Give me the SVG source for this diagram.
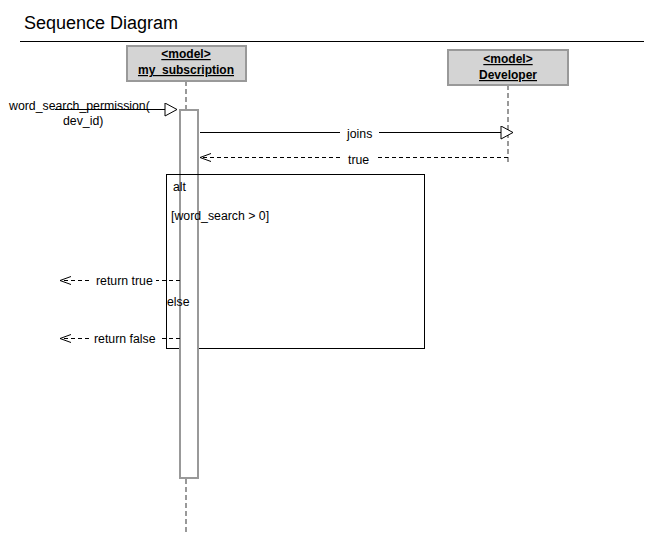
<svg xmlns="http://www.w3.org/2000/svg" width="667" height="555" viewBox="0 0 667 555">
<style>
text{font-family:"Liberation Sans",Arial,sans-serif;font-size:12.3px;fill:#000}
.title{font-size:18px}
.head{fill:#d4d4d4;stroke:#999;stroke-width:2}
.hl{font-weight:bold;text-decoration:underline;text-anchor:middle;font-size:12px}
.life{stroke:#999;stroke-width:2;stroke-dasharray:5,3;fill:none}
.act{fill:#fff;stroke:#999;stroke-width:2}
.msg{stroke:#000;stroke-width:1;fill:none}
.dash{stroke:#000;stroke-width:1;stroke-dasharray:4,3;fill:none}
.lbl{fill:#fff;stroke:none}
</style>
<defs>
<marker id="tri" markerWidth="15" markerHeight="16" refX="13" refY="7" orient="auto" markerUnits="userSpaceOnUse">
<path d="M1,0.5 L13,7 L1,13.5 Z" fill="#fff" stroke="#000" stroke-width="1"/>
</marker>
<marker id="open" markerWidth="14" markerHeight="12" refX="12" refY="5" orient="auto" markerUnits="userSpaceOnUse">
<path d="M1,1 L12,5 L1,9" fill="none" stroke="#000" stroke-width="1"/>
</marker>
</defs>
<text class="title" x="24" y="29">Sequence Diagram</text>
<line x1="20" y1="41.5" x2="644" y2="41.5" stroke="#000" stroke-width="1"/>

<g id="my_subscription">
<line class="life" x1="186" y1="81" x2="186" y2="110"/>
<line class="life" x1="186" y1="479" x2="186" y2="535"/>
<rect class="head" x="127" y="46" width="119" height="35"/>
<text class="hl" x="186" y="58">&lt;model&gt;</text>
<text class="hl" x="186" y="74">my_subscription</text>
</g>

<g id="developer">
<line class="life" x1="508" y1="85" x2="508" y2="163"/>
<rect class="head" x="448" y="50" width="120" height="35"/>
<text class="hl" x="508" y="63">&lt;model&gt;</text>
<text class="hl" x="508" y="79">Developer</text>
</g>

<g id="alt_frame">
<rect x="166.5" y="174.5" width="258" height="174" fill="none" stroke="#000" stroke-width="1"/>
</g>

<g id="activation">
<rect class="act" x="180" y="110" width="18" height="368"/>
</g>

<g id="alt_labels">
<line x1="166" y1="174.5" x2="424" y2="174.5" stroke="#000" stroke-width="1"/>
<text x="173" y="191">alt</text>
<text x="171" y="220">[word_search &gt; 0]</text>
<text x="167" y="306">else</text>
</g>

<g id="connectors">
<line class="msg" x1="55" y1="109.5" x2="177" y2="109.5" marker-end="url(#tri)"/>
<text x="9" y="110">word_search_permission(</text>
<text x="63" y="125">dev_id)</text>

<line class="msg" x1="200" y1="132.5" x2="513" y2="132.5" marker-end="url(#tri)"/>
<rect class="lbl" x="340" y="125" width="39" height="14"/>
<text x="347" y="138">joins</text>

<line class="dash" x1="508" y1="157.5" x2="200" y2="157.5" marker-end="url(#open)"/>
<rect class="lbl" x="342" y="150" width="33" height="14"/>
<text x="348" y="164">true</text>

<line class="dash" x1="180" y1="280.5" x2="60" y2="280.5" marker-end="url(#open)"/>
<rect class="lbl" x="90" y="273" width="66" height="14"/>
<text x="96" y="285">return true</text>

<line class="dash" x1="180" y1="338.5" x2="60" y2="338.5" marker-end="url(#open)"/>
<rect class="lbl" x="89" y="331" width="70" height="14"/>
<text x="94" y="343">return false</text>
</g>
</svg>
